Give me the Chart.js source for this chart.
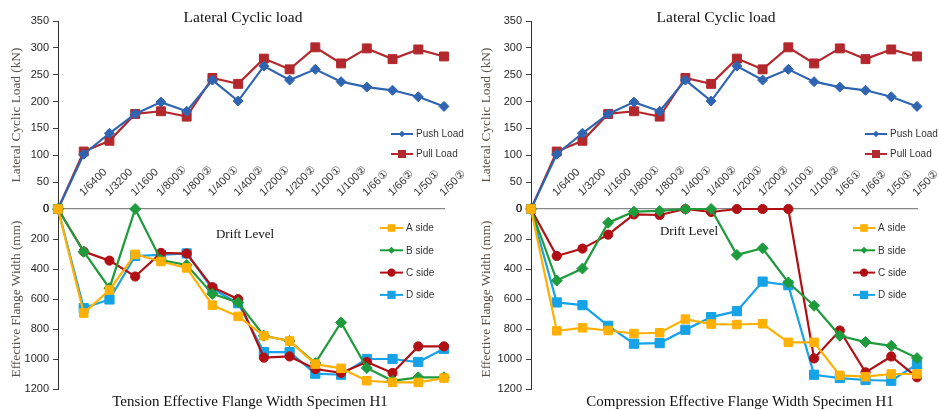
<!DOCTYPE html>
<html>
<head>
<meta charset="utf-8">
<script src="https://cdn.jsdelivr.net/npm/chart.js@4.4.1/dist/chart.umd.min.js"></script>
<style>
  html, body { margin: 0; padding: 0; background: #fff; }
  body { width: 939px; height: 410px; overflow: hidden; position: relative; }
  canvas { position: absolute; }
  .t {
    position: absolute; white-space: nowrap; line-height: 1;
    font-family: "Liberation Serif", "Times New Roman", serif; color: #111;
    transform: translate(-50%, -50%);
  }
</style>
</head>
<body>
<canvas id="loadL" width="470" height="215" style="left:0;top:0"></canvas>
<canvas id="loadR" width="469" height="215" style="left:470px;top:0"></canvas>
<canvas id="flangeL" width="470" height="280" style="left:0;top:130px"></canvas>
<canvas id="flangeR" width="469" height="280" style="left:470px;top:130px"></canvas>

<div class="t" style="left:243px;top:17px;font-size:15.5px">Lateral Cyclic load</div>
<div class="t" style="left:716px;top:17px;font-size:15.5px">Lateral Cyclic load</div>
<div class="t" style="left:245px;top:233px;font-size:13px">Drift Level</div>
<div class="t" style="left:689px;top:230px;font-size:13px">Drift Level</div>
<div class="t" style="left:250px;top:401px;font-size:15px">Tension Effective Flange Width Specimen H1</div>
<div class="t" style="left:740px;top:401px;font-size:15px">Compression Effective Flange Width Specimen H1</div>

<script>
// Drift levels along the category axis (origin point has no label)
const driftLevels = ['1/6400', '1/3200', '1/1600', '1/800①', '1/800②', '1/400①', '1/400②',
  '1/200①', '1/200②', '1/100①', '1/100②', '1/66①', '1/66②', '1/50①', '1/50②'];
const categories = [''].concat(driftLevels);

// Lateral cyclic load (kN)
const pushLoad = [0, 102, 141, 177, 199, 182, 240, 201, 266, 240, 260, 237, 227, 221, 209, 191];
const pullLoad = [0, 107, 127, 177, 182, 172, 244, 233, 280, 260, 301, 271, 299, 279, 297, 284];

// Tension effective flange width (mm)
const tensionA = [0, 694, 540, 302, 350, 393, 641, 716, 845, 880, 1034, 1062, 1145, 1156, 1156, 1127];
const tensionB = [0, 285, 528, 0, 340, 373, 566, 623, 845, 880, 1027, 756, 1060, 1145, 1122, 1122];
const tensionC = [0, 284, 344, 450, 293, 297, 521, 601, 991, 983, 1067, 1093, 1020, 1093, 916, 916];
const tensionD = [0, 661, 603, 313, 306, 296, 532, 628, 954, 954, 1098, 1105, 1000, 1000, 1020, 932];

// Compression effective flange width (mm)
const compA = [0, 812, 792, 810, 830, 825, 734, 767, 770, 765, 889, 889, 1109, 1118, 1100, 1100];
const compB = [0, 477, 397, 91, 18, 13, 0, 0, 306, 262, 490, 645, 845, 887, 912, 994];
const compC = [0, 313, 264, 171, 36, 40, 0, 20, 0, 0, 0, 996, 810, 1089, 983, 1122];
const compD = [0, 623, 641, 779, 898, 894, 805, 721, 681, 484, 508, 1105, 1127, 1140, 1145, 1036];

const COL = {
  push: '#2F65B0', pull: '#B3282D',
  A: '#FFB000', B: '#1E9B3C', C: '#B00F14', D: '#15A2E6'
};
const SANS = '"Liberation Sans", Arial, sans-serif';
const SERIF = '"Liberation Serif", "Times New Roman", serif';

function drawMarker(ctx, style, r, x, y, color) {
  ctx.fillStyle = color;
  ctx.beginPath();
  if (style === 'rect') {
    const s = r * Math.SQRT1_2;
    ctx.rect(x - s, y - s, 2 * s, 2 * s);
  } else if (style === 'rectRot') {
    const s = r * Math.SQRT1_2;
    ctx.moveTo(x - s, y); ctx.lineTo(x, y - s); ctx.lineTo(x + s, y); ctx.lineTo(x, y + s);
    ctx.closePath();
  } else {
    ctx.arc(x, y, r, 0, Math.PI * 2);
  }
  ctx.fill();
}

// Legend drawn inside the plot: short line sample with marker, then the label
const insideLegend = {
  id: 'insideLegend',
  afterDatasetsDraw(chart, args, opts) {
    const ctx = chart.ctx;
    ctx.save();
    ctx.font = '10px ' + SANS;
    ctx.textBaseline = 'middle';
    ctx.textAlign = 'left';
    chart.data.datasets.forEach((ds, i) => {
      const y = opts.y + i * opts.dy;
      ctx.strokeStyle = ds.borderColor;
      ctx.lineWidth = 2;
      ctx.beginPath();
      ctx.moveTo(opts.x, y); ctx.lineTo(opts.x + opts.len, y);
      ctx.stroke();
      drawMarker(ctx, ds.pointStyle, ds.pointRadius * 0.9, opts.x + opts.len / 2, y, ds.borderColor);
      ctx.fillStyle = '#333333';
      ctx.fillText(ds.label, opts.x + opts.len + 3, y + 0.5);
    });
    ctx.restore();
  }
};

function series(label, data, color, style, radius) {
  return {
    label, data, borderColor: color, backgroundColor: color,
    pointBackgroundColor: color, pointBorderColor: color, pointBorderWidth: 1,
    pointStyle: style, pointRadius: radius, borderWidth: 2.2, tension: 0, clip: false
  };
}

function yTitle(text) {
  return { display: true, text, color: '#5a5048', font: { family: SERIF, size: 13.3 }, padding: { top: 9, bottom: 0 } };
}

const yTicks = { color: '#262626', font: { family: SANS, size: 11 }, padding: 4, callback: v => String(v) };
const yGrid = { drawOnChartArea: false, drawTicks: true, tickLength: 5, color: '#404040' };
const yBorder = { display: true, color: '#303030', width: 1 };

function fixY(axisW) {
  return s => { s.width = axisW; s.paddingTop = 0; s.paddingBottom = 0; };
}

function loadChart(id, axisW, padRight, legend) {
  return new Chart(document.getElementById(id), {
    type: 'line',
    data: {
      labels: categories,
      datasets: [
        series('Push Load', pushLoad, COL.push, 'rectRot', 5),
        series('Pull Load', pullLoad, COL.pull, 'rect', 6.3)
      ]
    },
    options: {
      responsive: false, animation: false,
      layout: { autoPadding: false, padding: { top: 21, bottom: 6, left: 0, right: padRight } },
      plugins: { legend: { display: false }, tooltip: { enabled: false }, insideLegend: legend },
      scales: {
        x: { display: false, offset: false },
        y: {
          min: 0, max: 350,
          ticks: Object.assign({ stepSize: 50 }, yTicks),
          grid: yGrid, border: yBorder,
          title: yTitle('Lateral Cyclic Load (kN)'),
          afterFit: fixY(axisW)
        }
      }
    },
    plugins: [insideLegend]
  });
}

function flangeChart(id, axisW, padRight, sets, legend) {
  return new Chart(document.getElementById(id), {
    type: 'line',
    data: {
      labels: categories,
      datasets: [
        series('A side', sets[0], COL.A, 'rect', 6.0),
        series('B side', sets[1], COL.B, 'rectRot', 5.5),
        series('C side', sets[2], COL.C, 'circle', 4.6),
        series('D side', sets[3], COL.D, 'rect', 6.5)
      ]
    },
    options: {
      responsive: false, animation: false,
      layout: { autoPadding: false, padding: { top: 0, bottom: 21, left: 0, right: padRight } },
      plugins: { legend: { display: false }, tooltip: { enabled: false }, insideLegend: legend },
      scales: {
        x: {
          position: 'top', offset: false,
          grid: { display: false, drawTicks: false },
          border: { display: true, color: '#868686', width: 1.2 },
          ticks: { autoSkip: false, minRotation: 45, maxRotation: 45, padding: 10, labelOffset: 7,
                   color: '#333333', font: { family: SANS, size: 11 } },
          afterFit: s => { s.height = 79; s.paddingLeft = 0; s.paddingRight = 0; }
        },
        y: {
          reverse: true, min: 0, max: 1200,
          ticks: Object.assign({ stepSize: 200 }, yTicks),
          grid: yGrid, border: yBorder,
          title: yTitle('Effective Flange Width (mm)'),
          afterFit: fixY(axisW)
        }
      }
    },
    plugins: [insideLegend]
  });
}

loadChart('loadL', 58, 26, { x: 391, y: 134, dy: 20, len: 22 });
loadChart('loadR', 61, 22, { x: 395, y: 134, dy: 20, len: 22 });
flangeChart('flangeL', 58, 26, [tensionA, tensionB, tensionC, tensionD], { x: 380, y: 98, dy: 22.3, len: 23 });
flangeChart('flangeR', 61, 22, [compA, compB, compC, compD], { x: 383, y: 98, dy: 22.3, len: 22 });
</script>
</body>
</html>
